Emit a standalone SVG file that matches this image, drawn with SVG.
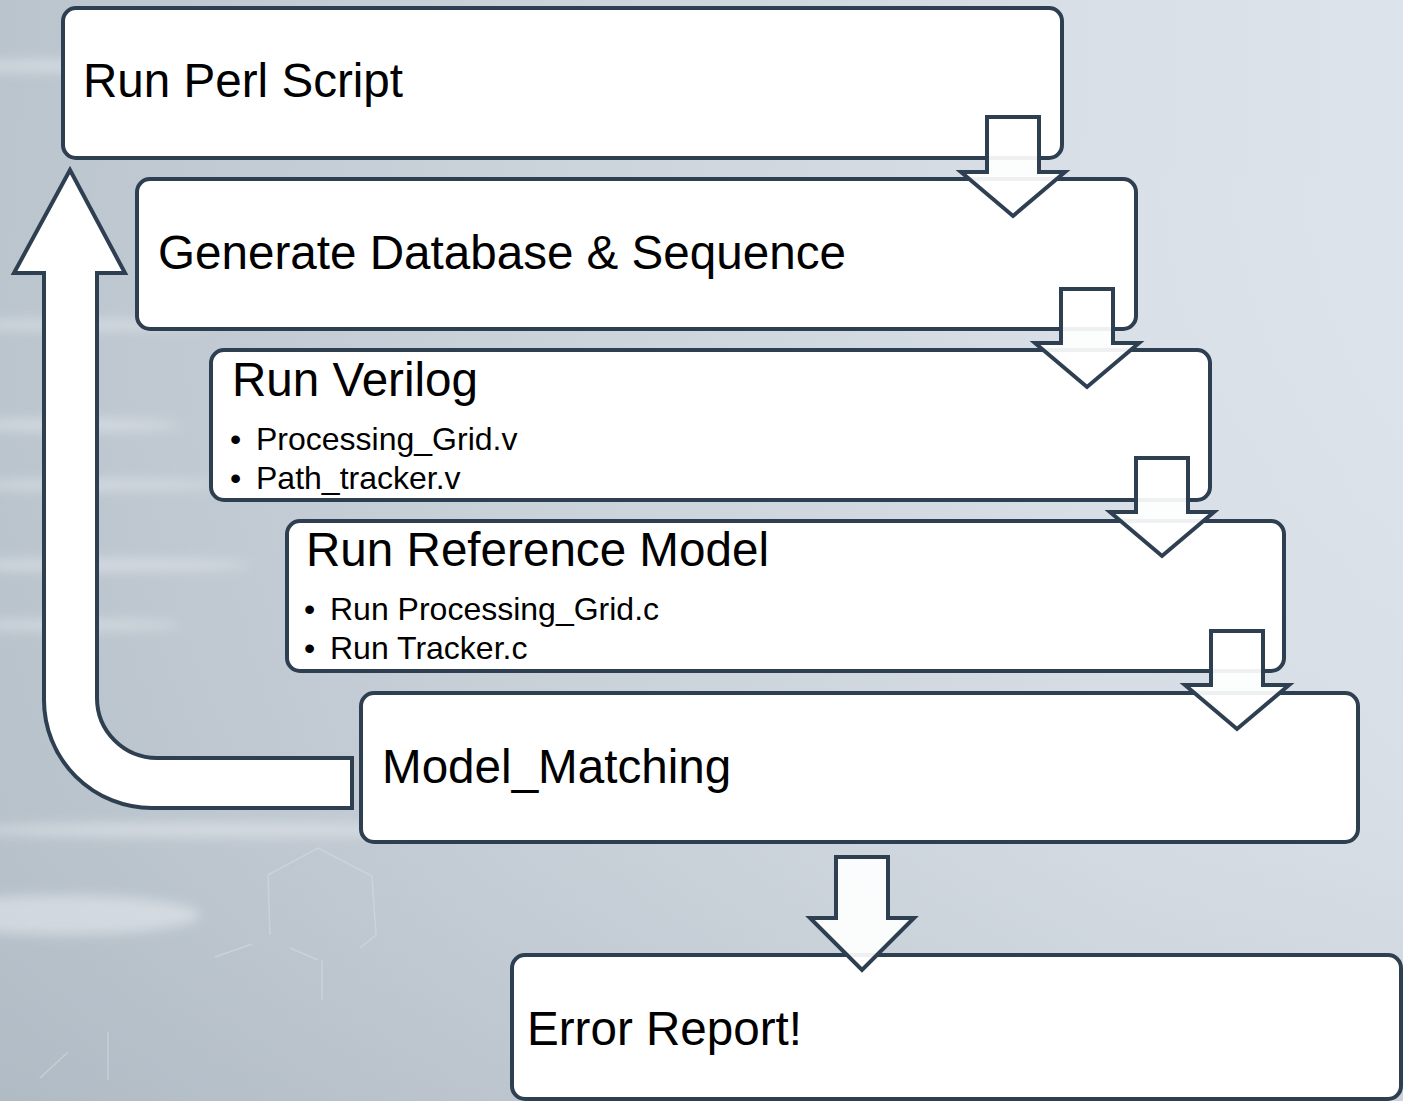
<svg xmlns="http://www.w3.org/2000/svg" width="1403" height="1101" viewBox="0 0 1403 1101">
<style>
.box{fill:#ffffff;stroke:#2e3f51;stroke-width:4}
.arr{fill:#ffffff;fill-opacity:0.92;stroke:#2e3f51;stroke-width:4;stroke-linejoin:miter}
.loop{fill:#ffffff;stroke:#2e3f51;stroke-width:4;stroke-linejoin:miter}
.t{font-family:"Liberation Sans",Arial,sans-serif;font-size:47.6px;fill:#000}
.b{font-family:"Liberation Sans",Arial,sans-serif;font-size:32px;fill:#000}
</style>
<defs>
<linearGradient id="bg" x1="0" y1="0" x2="1" y2="0">
<stop offset="0" stop-color="#bac4cd"/>
<stop offset="0.35" stop-color="#c9d1d9"/>
<stop offset="0.8" stop-color="#d9e0e7"/>
<stop offset="1" stop-color="#dde3ea"/>
</linearGradient>
<linearGradient id="bgv" x1="0" y1="0" x2="0" y2="1">
<stop offset="0" stop-color="#ffffff" stop-opacity="0"/>
<stop offset="0.75" stop-color="#9aa6b1" stop-opacity="0.08"/>
<stop offset="1" stop-color="#8e9aa6" stop-opacity="0.22"/>
</linearGradient>
<filter id="blur" x="-50%" y="-50%" width="200%" height="200%"><feGaussianBlur stdDeviation="6"/></filter>
</defs>
<rect x="0" y="0" width="1403" height="1101" fill="url(#bg)"/>
<rect x="0" y="0" width="1403" height="1101" fill="url(#bgv)"/>
<g filter="url(#blur)" fill="#f2f5f8" opacity="0.45">
<ellipse cx="60" cy="66" rx="110" ry="6"/>
<ellipse cx="80" cy="325" rx="130" ry="5"/>
<ellipse cx="70" cy="425" rx="110" ry="6"/>
<ellipse cx="90" cy="485" rx="130" ry="5"/>
<ellipse cx="100" cy="565" rx="150" ry="6"/>
<ellipse cx="70" cy="625" rx="110" ry="5"/>
<ellipse cx="200" cy="830" rx="230" ry="7"/>
<ellipse cx="60" cy="915" rx="140" ry="20"/>
</g>
<g fill="none" stroke="#d4dae0" stroke-width="1.5" opacity="0.6">
<path d="M268 875 L270 935 M268 875 L318 848 L372 876 L376 935 M376 935 L360 948 M322 960 L322 1000 M215 957 L252 944 M290 948 L318 960"/>
<path d="M108 1032 L108 1080 M68 1052 L40 1078"/>
</g>
<g id="n1"><rect class="box" x="63" y="8" width="999" height="150" rx="13"/><text class="t" x="83" y="97">Run Perl Script</text></g>
<g id="n2"><rect class="box" x="137" y="179" width="999" height="150" rx="13"/><text class="t" x="158" y="269">Generate Database &amp; Sequence</text></g>
<g id="n3"><rect class="box" x="211" y="350" width="999" height="150" rx="13"/><text class="t" x="232" y="396">Run Verilog</text>
<text class="b" x="230" y="450">•</text><text class="b" x="256" y="450">Processing_Grid.v</text>
<text class="b" x="230" y="489">•</text><text class="b" x="256" y="489">Path_tracker.v</text></g>
<g id="n4"><rect class="box" x="287" y="521" width="997" height="150" rx="13"/><text class="t" x="306" y="566">Run Reference Model</text>
<text class="b" x="304" y="620">•</text><text class="b" x="330" y="620">Run Processing_Grid.c</text>
<text class="b" x="304" y="659">•</text><text class="b" x="330" y="659">Run Tracker.c</text></g>
<g id="n5"><rect class="box" x="361" y="693" width="997" height="149" rx="13"/><text class="t" x="382" y="783">Model_Matching</text></g>
<g id="n6"><rect class="box" x="512" y="955" width="889" height="144" rx="13"/><text class="t" x="527" y="1045">Error Report!</text></g>
<g id="connectors">
<path id="loop" class="loop" d="M44 273 V 700 A 108 108 0 0 0 152 808 H 352 V 758 H 157 A 60 60 0 0 1 97 698 V 273 H 125 L 70 170 L 14 273 Z"/>
<path id="a1" class="arr" d="M987 117 H1039 V172 H1065 L1013 216 L961 172 H987 Z"/>
<path id="a2" class="arr" d="M1061 289 H1113 V343 H1139 L1087 387 L1035 343 H1061 Z"/>
<path id="a3" class="arr" d="M1136 458 H1188 V512 H1214 L1162 556 L1110 512 H1136 Z"/>
<path id="a4" class="arr" d="M1211 631 H1263 V685 H1289 L1237 729 L1185 685 H1211 Z"/>
<path id="a5" class="arr" d="M836 857 H888 V918 H914 L862 970 L810 918 H836 Z"/>
</g>
</svg>
